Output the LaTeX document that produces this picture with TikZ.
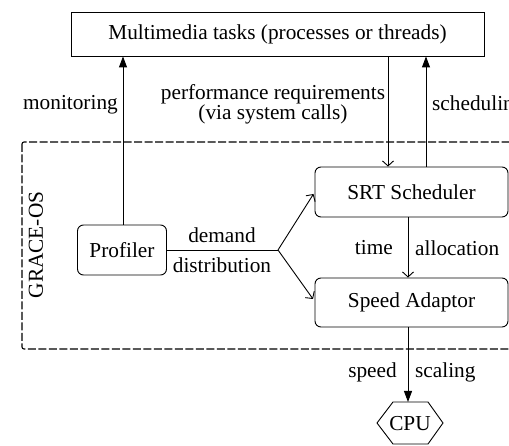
\documentclass[tikz,border=0pt]{standalone}
\usepackage{fontspec}
\setmainfont{Liberation Serif}
\usetikzlibrary{arrows.meta,positioning}
\begin{document}
\begin{tikzpicture}[x=1pt,y=-1pt,
  font=\fontsize{21.3}{24}\selectfont,
  box/.style={draw,line width=0.9pt,inner sep=0pt},
  rbox/.style={box,rounded corners=6pt},
  wire/.style={line width=0.9pt},
  solidtip/.style={wire,-{Triangle[length=11pt,width=8pt]}},
  opentip/.style={wire,-{Straight Barb[length=5pt,width=11pt,line width=0.9pt]}},
  lbl/.style={inner sep=0pt}]
\useasboundingbox (0,0) rectangle (509,446);
\clip (0,0) rectangle (509,446);

% kernel region
\draw[line width=1.1pt,dash pattern=on 8pt off 2.5pt,rounded corners=2pt]
  (22,142) rectangle (560,349);
\node[lbl,rotate=90] (grace) at (36,245) {GRACE-OS};

% boxes
\node[box,minimum width=413pt,minimum height=44pt] (tasks) at (277.5,34) {Multimedia tasks (processes or threads)};
\node[rbox,minimum width=89pt,minimum height=50pt] (prof) at (122,250) {Profiler};
\node[rbox,minimum width=193pt,minimum height=50pt] (srt) at (411.5,192) {SRT Scheduler};
\node[rbox,minimum width=193pt,minimum height=49pt] (spd) at (411.5,302.5) {Speed Adaptor};
\node[inner sep=0pt,minimum width=30pt,minimum height=30pt] (cpu) at (410,424) {CPU};
\draw[wire] (377,423) -- (393,402) -- (428,402) -- (443,423) -- (428,444) -- (393,444) -- cycle;

% monitoring
\draw[solidtip] (prof.north -| 123,0) -- (tasks.south -| 123,0);
\node[lbl,anchor=east] (mon) at (118,105) {monitoring};

% performance requirements
\draw[opentip] (tasks.south -| 388,0) -- (srt.north -| 388,0);
\node[lbl,align=center] (perf) at (273,104) {performance requirements\\[-4pt](via system calls)};

% scheduling
\draw[solidtip] (srt.north -| 426,0) -- (tasks.south -| 426,0);
\node[lbl,anchor=west] (sched) at (432,105) {scheduling};

% demand distribution
\coordinate (split) at (278,250);
\draw[wire] (prof.east) -- (split);
\draw[opentip] (split) -- (313.5,194);
\draw[opentip] (split) -- (313,299);
\node[lbl] (dem) at (222,235) {demand};
\node[lbl] (dist) at (222,265) {distribution};

% time allocation
\draw[opentip] (srt.south -| 408,0) -- (spd.north -| 408,0);
\node[lbl,anchor=east] (time) at (393,248) {time};
\node[lbl,anchor=west] (alloc) at (415,248) {allocation};

% speed scaling
\draw[solidtip] (spd.south -| 408,0) -- (408,402);
\node[lbl,anchor=east] (speed) at (397,372) {speed};
\node[lbl,anchor=west] (scal) at (415,372) {scaling};
\end{tikzpicture}
\end{document}
